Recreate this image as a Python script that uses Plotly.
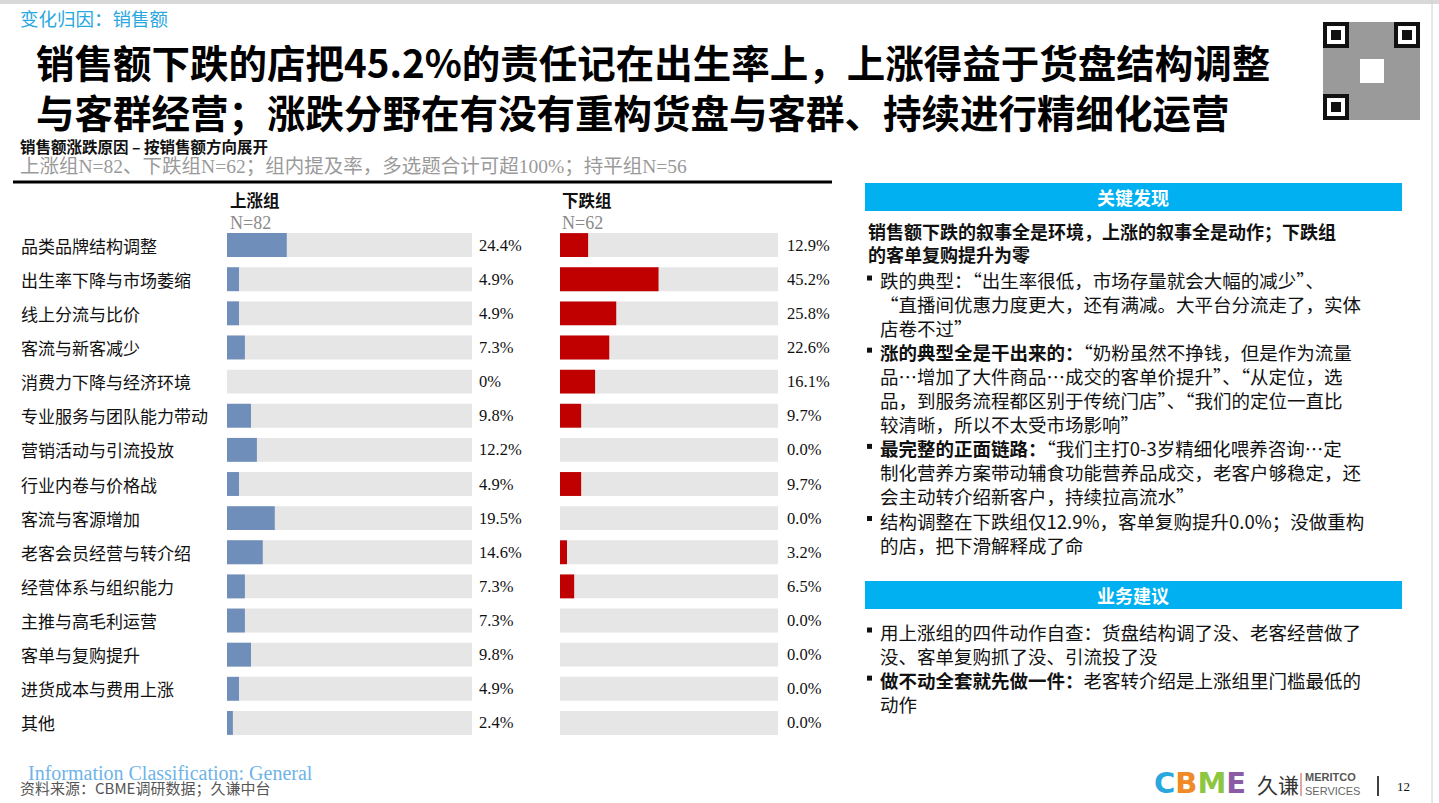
import plotly.graph_objects as go

W, H = 1439, 803
SERIF = "Liberation Serif, Noto Sans CJK SC, serif"
CJK = "Noto Sans CJK SC, sans-serif"

# ---- data ----
reasons = [
    "品类品牌结构调整", "出生率下降与市场萎缩", "线上分流与比价", "客流与新客减少",
    "消费力下降与经济环境", "专业服务与团队能力带动", "营销活动与引流投放", "行业内卷与价格战",
    "客流与客源增加", "老客会员经营与转介绍", "经营体系与组织能力", "主推与高毛利运营",
    "客单与复购提升", "进货成本与费用上涨", "其他",
]
up_pct = [24.4, 4.9, 4.9, 7.3, 0, 9.8, 12.2, 4.9, 19.5, 14.6, 7.3, 7.3, 9.8, 4.9, 2.4]
down_pct = [12.9, 45.2, 25.8, 22.6, 16.1, 9.7, 0.0, 9.7, 0.0, 3.2, 6.5, 0.0, 0.0, 0.0, 0.0]
full = [100] * len(reasons)

title_lines = [
    "销售额下跌的店把45.2%的责任记在出生率上，上涨得益于货盘结构调整",
    "与客群经营；涨跌分野在有没有重构货盘与客群、持续进行精细化运营",
]
findings_head = ["销售额下跌的叙事全是环境，上涨的叙事全是动作；下跌组", "的客单复购提升为零"]
# one list of lines per bullet
findings = [
    ["跌的典型：“出生率很低，市场存量就会大幅的减少”、",
     "“直播间优惠力度更大，还有满减。大平台分流走了，实体",
     "店卷不过”"],
    ["<b>涨的典型全是干出来的：</b>“奶粉虽然不挣钱，但是作为流量",
     "品…增加了大件商品…成交的客单价提升”、“从定位，选",
     "品，到服务流程都区别于传统门店”、“我们的定位一直比",
     "较清晰，所以不太受市场影响”"],
    ["<b>最完整的正面链路：</b>“我们主打0-3岁精细化喂养咨询…定",
     "制化营养方案带动辅食功能营养品成交，老客户够稳定，还",
     "会主动转介绍新客户，持续拉高流水”"],
    ["结构调整在下跌组仅12.9%，客单复购提升0.0%；没做重构",
     "的店，把下滑解释成了命"],
]
advice = [
    ["用上涨组的四件动作自查：货盘结构调了没、老客经营做了",
     "没、客单复购抓了没、引流投了没"],
    ["<b>做不动全套就先做一件：</b>老客转介绍是上涨组里门槛最低的",
     "动作"],
]


def px(x):
    return x / W


def py(y):
    return 1 - y / H


fig = go.Figure()


def text(x, y, s, size, color="#000000", family=SERIF, anchor="left", yanchor="middle"):
    fig.add_annotation(x=px(x), y=py(y), xref="paper", yref="paper", text=s,
                       showarrow=False, xanchor=anchor, yanchor=yanchor, align="left",
                       borderpad=0, font=dict(size=size, color=color, family=family))


def box(x0, y0, x1, y1, color):
    fig.add_shape(type="rect", xref="paper", yref="paper",
                  x0=px(x0), x1=px(x1), y0=py(y1), y1=py(y0),
                  fillcolor=color, line=dict(width=0), layer="below")


def hline(x0, x1, y, color, width):
    fig.add_shape(type="line", xref="paper", yref="paper", x0=px(x0), x1=px(x1),
                  y0=py(y), y1=py(y), line=dict(color=color, width=width))


def vline(x, y0, y1, color, width):
    fig.add_shape(type="line", xref="paper", yref="paper", x0=px(x), x1=px(x),
                  y0=py(y0), y1=py(y1), line=dict(color=color, width=width))


# ---- bars ----
for xa, vals, col in (("x", up_pct, "#6f8fba"), ("x2", down_pct, "#c00000")):
    fig.add_trace(go.Bar(y=reasons, x=full, orientation="h", xaxis=xa, yaxis="y",
                         marker=dict(color="#e6e6e6", line=dict(width=0)), hoverinfo="skip"))
    fig.add_trace(go.Bar(y=reasons, x=vals, orientation="h", xaxis=xa, yaxis="y",
                         marker=dict(color=col, line=dict(width=0))))

up_labels = [f"{v:.1f}%" if v else "0%" for v in up_pct]
down_labels = [f"{v:.1f}%" for v in down_pct]
for r, a, b in zip(reasons, up_labels, down_labels):
    fig.add_annotation(x=px(19), y=r, xref="paper", yref="y", text=r, showarrow=False,
                       xanchor="left", font=dict(size=17, color="#111", family=CJK))
    fig.add_annotation(x=px(477), y=r, xref="paper", yref="y", text=a, showarrow=False,
                       xanchor="left", font=dict(size=16.5, color="#111", family=SERIF))
    fig.add_annotation(x=px(785), y=r, xref="paper", yref="y", text=b, showarrow=False,
                       xanchor="left", font=dict(size=16.5, color="#111", family=SERIF))

# ---- header ----
box(0, 0, W, 4, "#d9d9d9")
vline(1432, 0, H, "#d0d0d0", 1)
text(19, 18, "变化归因：销售额", 18.5, "#29a8e0", CJK)
text(35, 86, "<b>" + "<br>".join(title_lines) + "</b>", 38.5, "#000", CJK)
text(19, 146, "<b>销售额涨跌原因 – 按销售额方向展开</b>", 15.5, "#111", CJK)
text(19, 167, "上涨组N=82、下跌组N=62；组内提及率，多选题合计可超100%；持平组N=56", 19.5, "#9a9a9a", SERIF)
hline(13, 832, 182, "#000", 3)

# QR code placeholder (finder squares)
box(1323, 22, 1420, 120, "#9a9a9a")
for qx, qy in ((1323, 22), (1394, 22), (1323, 94)):
    box(qx, qy, qx + 26, qy + 26, "#111")
    box(qx + 4, qy + 4, qx + 22, qy + 22, "#fff")
    box(qx + 8, qy + 8, qx + 18, qy + 18, "#111")
box(1360, 59, 1384, 83, "#ffffff")

# column heads
text(229, 200, "<b>上涨组</b>", 16.5, "#111", CJK)
text(229, 223, "N=82", 18, "#8a8a8a", SERIF)
text(561, 200, "<b>下跌组</b>", 16.5, "#111", CJK)
text(561, 223, "N=62", 18, "#8a8a8a", SERIF)

# ---- right panel ----
BODY = 18.5
LINE = BODY * 1.3


def bullets(paras, y_top):
    y = y_top
    for lines in paras:
        box(867, y + LINE / 2 - 2.5, 872, y + LINE / 2 + 2.5, "#111")
        text(879, y, "<br>".join(lines), BODY, "#111", CJK, yanchor="top")
        y += LINE * len(lines)


box(865, 183, 1402, 211, "#00b0f0")
text(1133, 197, "<b>关键发现</b>", 18, "#fff", CJK, "center")
text(867, 217, "<b>" + "<br>".join(findings_head) + "</b>", 18, "#111", CJK, yanchor="top")
bullets(findings, 266)

box(865, 581, 1402, 609, "#00b0f0")
text(1133, 595, "<b>业务建议</b>", 18, "#fff", CJK, "center")
bullets(advice, 618)

# ---- footer ----
text(27, 773, "Information Classification: General", 20, "#6fb4e8", SERIF)
text(19, 787, "资料来源：CBME调研数据；久谦中台", 15, "#555", CJK)
text(1153, 783, "<b><span style='color:#2aa7df'>C</span><span style='color:#f08a24'>B</span>"
     "<span style='color:#8dc63f'>M</span><span style='color:#8c5ba5'>E</span></b>", 29, "#000",
     "DejaVu Sans")
text(1256, 784, "久谦", 21, "#333", CJK)
vline(1301, 773, 796, "#c0504d", 1)
text(1304, 777, "<b>MERITCO</b>", 11, "#555", "Liberation Sans")
text(1304, 791, "SERVICES", 11, "#666", "Liberation Sans")
vline(1378, 776, 796, "#000", 1.5)
text(1396, 786, "12", 13, "#111", SERIF)

# ---- layout ----
fig.update_layout(
    width=W, height=H,
    margin=dict(l=0, r=0, t=0, b=0),
    paper_bgcolor="#ffffff", plot_bgcolor="rgba(0,0,0,0)",
    barmode="overlay", bargap=0.3, showlegend=False,
    xaxis=dict(domain=[px(227), px(472)], range=[0, 100], visible=False, fixedrange=True),
    xaxis2=dict(domain=[px(560), px(778)], range=[0, 100], visible=False, fixedrange=True,
                anchor="y"),
    yaxis=dict(domain=[py(740), py(228)], range=[len(reasons) - 0.5, -0.5],
               type="category", visible=False, fixedrange=True),
)

fig.write_html("out.html", config={"displayModeBar": False},
               post_script="document.body.style.margin='0';document.body.style.overflow='hidden';")
